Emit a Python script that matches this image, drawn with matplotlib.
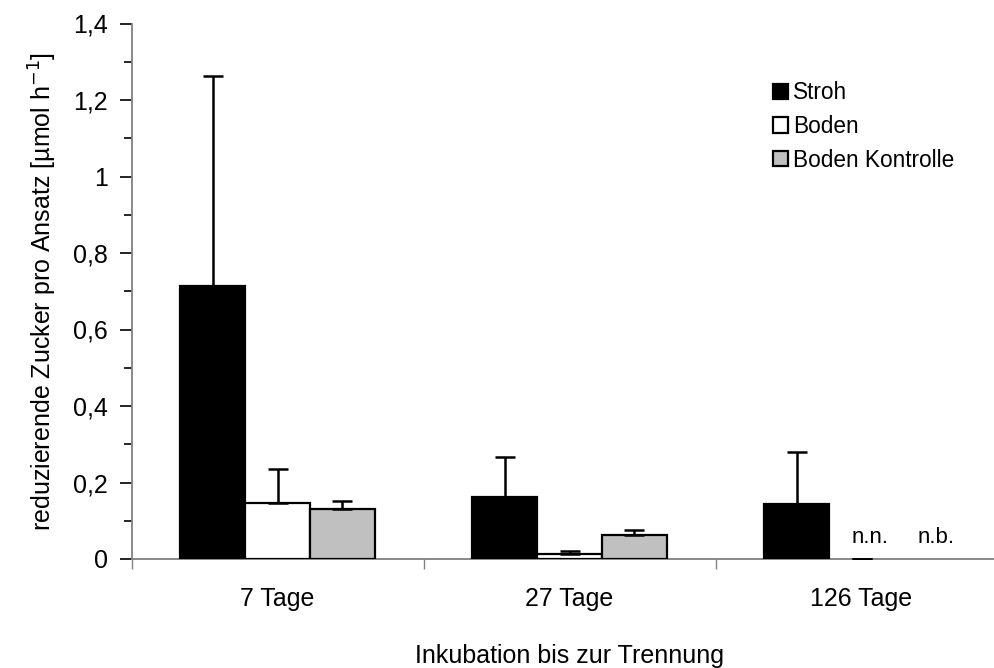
import matplotlib
matplotlib.use("Agg")
import matplotlib.pyplot as plt
import numpy as np
from matplotlib.patches import Rectangle

plt.rcParams['font.family'] = ['Liberation Sans', 'DejaVu Sans']

groups = ['7 Tage', '27 Tage', '126 Tage']
series = ['Stroh', 'Boden', 'Boden Kontrolle']
colors = ['black', 'white', '#c0c0c0']

# nan = no bar drawn (n.n. / n.b.)
stroh = [0.714, 0.163, 0.145]
stroh_err = [0.548, 0.103, 0.134]
boden = [0.147, 0.013, np.nan]
boden_err = [0.088, 0.009, np.nan]
kontrolle = [0.132, 0.064, np.nan]
kontrolle_err = [0.020, 0.012, np.nan]

# value shown only as an error cap at zero (n.n.)
nn_value = 0.0

notes = ['n.n.', 'n.b.']

yticks = [0, 0.2, 0.4, 0.6, 0.8, 1.0, 1.2, 1.4]
ytick_labels = ['0', '0,2', '0,4', '0,6', '0,8', '1', '1,2', '1,4']

fig = plt.figure(figsize=(9.94, 6.68), dpi=100)
# axis runs on past the right edge of the figure, as in the original
ax = fig.add_axes([131.5/994, 109/668, 876/994, 535.5/668])

x = np.arange(len(groups)) + 0.5
w = 0.222
vals = [stroh, boden, kontrolle]
errs = [stroh_err, boden_err, kontrolle_err]
for i, (v, e, c) in enumerate(zip(vals, errs, colors)):
    pos = x + (i - 1) * w
    ax.bar(pos, v, w, color=c, edgecolor='black', linewidth=1.6, zorder=3)
    ax.errorbar(pos, v, yerr=[np.zeros(len(v)), e], fmt='none', ecolor='black',
                elinewidth=1.8, capsize=7, capthick=1.8, zorder=4)

# n.n. cap at zero for Boden, 126 Tage
ax.errorbar([x[2]], [nn_value], yerr=[[0], [0.001]], fmt='none', ecolor='black',
            elinewidth=1.6, capsize=7, capthick=2, zorder=4)
ax.text(x[2] + 0.03, 0.028, notes[0], ha='center', va='bottom', fontsize=16)
ax.text(x[2] + w + 0.035, 0.028, notes[1], ha='center', va='bottom', fontsize=16)

ax.set_xlim(0, 3)
ax.set_ylim(0, 1.4)
ax.set_yticks(yticks)
ax.set_yticklabels(ytick_labels)
ax.set_yticks(np.arange(0.1, 1.4, 0.2), minor=True)
ax.set_xticks([0, 1, 2, 3])
ax.set_xticklabels([])
ax.set_xticks(x, minor=True)
ax.set_xticklabels(groups, minor=True)

ax.tick_params(axis='y', which='major', direction='out', length=9, width=1.2,
               labelsize=18, pad=8)
ax.tick_params(axis='y', which='minor', direction='out', length=6, width=1.2)
ax.tick_params(axis='x', which='major', direction='out', length=7, width=1, color='#808080')
ax.tick_params(axis='x', which='minor', length=0, labelsize=18, pad=20)

for s in ['top', 'right']:
    ax.spines[s].set_visible(False)
for s in ['left', 'bottom']:
    ax.spines[s].set_color('#808080')
    ax.spines[s].set_linewidth(1.3)

ax.set_ylabel('reduzierende Zucker pro Ansatz [µmol h$^{-1}$]', fontsize=18, labelpad=10)
ax.set_xlabel('Inkubation bis zur Trennung', fontsize=18)
ax.xaxis.set_label_coords(0.5, -0.158)

handles = [Rectangle((0, 0), 1, 1, facecolor=c, edgecolor='black', linewidth=1.6)
           for c in colors]
ax.legend(handles, series, loc='upper left', bbox_to_anchor=(0.732, 0.892),
          frameon=False, fontsize=16.3, handlelength=0.66, handleheight=0.66,
          handletextpad=0.25, labelspacing=0.47, borderpad=0, borderaxespad=0)

fig.savefig('out.png', dpi=100)
